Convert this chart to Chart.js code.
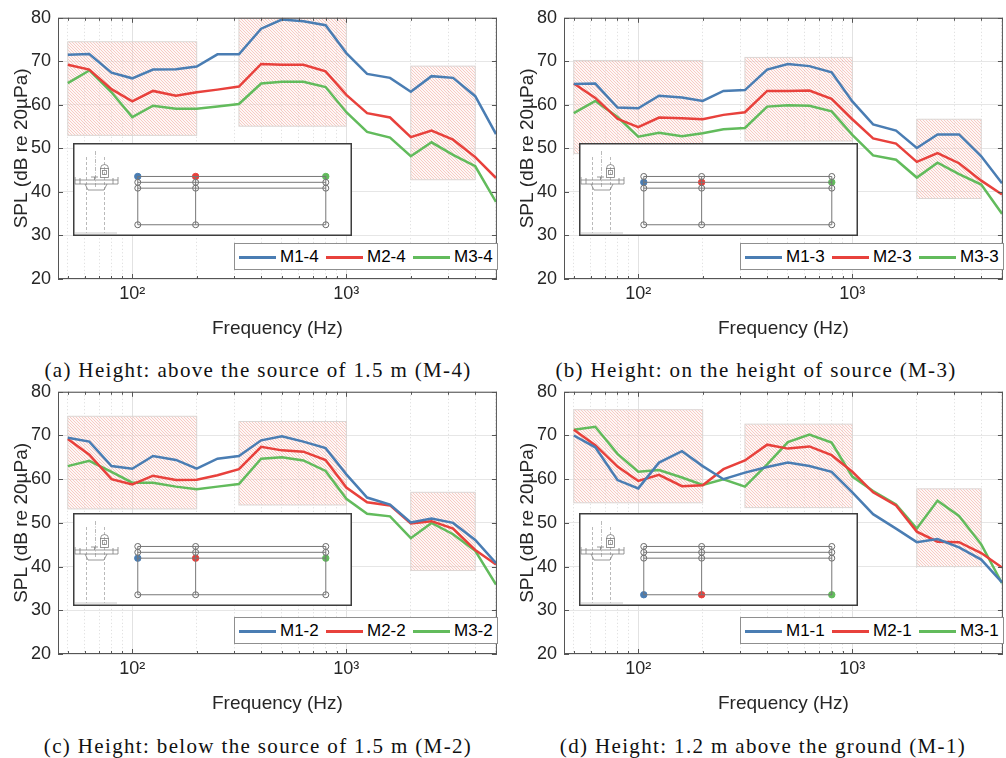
<!DOCTYPE html>
<html>
<head>
<meta charset="utf-8">
<script src="https://cdn.jsdelivr.net/npm/chart.js@4.4.1/dist/chart.umd.min.js"></script>
<style>
  body { margin: 0; background: #fff; width: 1006px; height: 758px; position: relative; overflow: hidden;
         font-family: "Liberation Sans", Arial, sans-serif; }
  .panel { position: absolute; }
  .inset { position: absolute; width: 279px; height: 93px; background: #fff; box-shadow: inset 0 0 0 1.5px #3d3d3d; }
  .legend { position: absolute; width: 264px; height: 27px; background: #fff; border: 1px solid #8f8f8f; box-sizing: border-box; }
  .legend .ln { position: absolute; top: 12px; width: 37px; height: 2.5px; }
  .legend .tx { position: absolute; top: 0; line-height: 26px; font-size: 17px; color: #000; }
  .caption { position: absolute; font-family: "Liberation Serif", serif; font-size: 21px; line-height: 24px;
             letter-spacing: 1.35px; color: #111; white-space: nowrap; transform: translateX(-50%); }
</style>
</head>
<body>
<script>
// --- data ---
const freqs = [50, 63, 80, 100, 125, 160, 200, 250, 315, 400, 500, 630, 800, 1000, 1250, 1600, 2000, 2500, 3150, 4000, 5000];

// (a) above the source, M-4
const m1_4 = [71.5, 71.7, 67.4, 66.1, 68.1, 68.2, 68.8, 71.6, 71.6, 77.5, 79.6, 79.2, 78.3, 71.9, 67.1, 66.2, 63.0, 66.6, 66.2, 62.0, 53.3];
const m2_4 = [69.2, 68.1, 63.6, 60.8, 63.2, 62.1, 62.9, 63.5, 64.2, 69.4, 69.2, 69.2, 67.7, 62.3, 58.1, 57.1, 52.6, 54.1, 52.0, 48.0, 43.2];
const m3_4 = [65.0, 67.9, 62.9, 57.2, 59.8, 59.1, 59.1, 59.6, 60.2, 64.9, 65.3, 65.3, 64.1, 58.3, 53.8, 52.5, 48.2, 51.4, 48.5, 45.9, 37.7];

// (b) source height, M-3
const m1_3 = [64.8, 64.9, 59.4, 59.2, 62.1, 61.7, 60.9, 63.2, 63.4, 68.1, 69.4, 68.9, 67.5, 60.8, 55.5, 54.1, 50.1, 53.2, 53.2, 48.2, 42.0];
const m2_3 = [64.9, 61.6, 56.8, 54.9, 57.1, 56.9, 56.7, 57.7, 58.3, 63.2, 63.2, 63.3, 61.4, 56.7, 52.3, 51.1, 46.9, 48.9, 46.6, 42.6, 39.4];
const m3_3 = [58.1, 60.9, 57.2, 52.7, 53.6, 52.8, 53.5, 54.4, 54.7, 59.6, 59.9, 59.8, 58.5, 53.1, 48.4, 47.4, 43.3, 46.7, 44.1, 41.7, 35.0];

// (c) below the source, M-2
const m1_2 = [69.5, 68.6, 63.0, 62.4, 65.3, 64.4, 62.4, 64.7, 65.3, 68.9, 69.8, 68.6, 67.1, 61.1, 55.8, 54.2, 50.1, 51.0, 50.0, 46.1, 40.8];
const m2_2 = [69.2, 65.6, 60.0, 58.8, 60.8, 59.8, 59.9, 60.9, 62.3, 67.4, 66.6, 66.3, 64.4, 58.1, 54.7, 54.0, 49.9, 50.4, 48.7, 43.8, 40.5];
const m3_2 = [63.0, 64.2, 61.7, 59.2, 59.2, 58.3, 57.7, 58.3, 58.9, 64.7, 65.0, 64.3, 61.9, 55.5, 52.1, 51.5, 46.5, 50.0, 47.4, 43.6, 35.9];

// (d) 1.2 m above ground, M-1
const m1_1 = [70.0, 67.3, 59.8, 57.9, 63.8, 66.4, 63.0, 60.0, 61.5, 62.8, 63.8, 63.0, 61.7, 57.0, 52.0, 48.7, 45.6, 46.3, 44.4, 41.6, 36.4];
const m2_1 = [71.3, 67.8, 62.9, 59.6, 61.0, 58.4, 58.6, 62.3, 64.3, 67.9, 67.0, 67.5, 65.5, 61.7, 57.0, 54.0, 48.0, 45.7, 45.6, 43.1, 39.8];
const m3_1 = [71.3, 72.0, 65.8, 61.7, 62.1, 60.4, 58.7, 60.0, 58.3, 63.4, 68.5, 70.2, 68.4, 60.6, 57.3, 54.2, 48.7, 55.1, 51.6, 45.1, 36.2];

// hatched bands: frequency ranges, and dB ranges per panel
const bandFreqs = [[50, 200], [315, 1000], [2000, 4000]];
const bandsA = [[53.0, 74.5], [55.1, 80.0], [42.8, 68.9]];
const bandsB = [[48.8, 70.2], [51.7, 70.9], [38.5, 56.7]];
const bandsC = [[53.2, 74.4], [54.1, 73.2], [39.1, 57.0]];
const bandsD = [[54.6, 75.9], [53.5, 72.6], [40.0, 57.8]];

// axis ticks
const xTickVals = [50, 60, 70, 80, 90, 100, 200, 300, 400, 500, 600, 700, 800, 900, 1000, 2000, 3000, 4000, 5000];
const yTickVals = [20, 30, 40, 50, 60, 70, 80];

// inset layout: mic stations along the line and the four heights (M-1..M-4)
const stationX = [0, 1, 3.25];
const heightLevels = [0, 1, 1.16, 1.32];

const colors = ['#4a7db3', '#e8413c', '#62bb5c'];

Chart.defaults.font.family = '"Liberation Sans", Arial, sans-serif';
Chart.defaults.color = '#262626';

const isMajor = v => v === 100 || v === 1000;

// --- plugins ---
function hatchPattern(ctx) {
  const c = document.createElement('canvas');
  c.width = 3; c.height = 3;
  const g = c.getContext('2d');
  g.fillStyle = 'rgba(250,232,228,0.35)';
  g.fillRect(0, 0, 3, 3);
  g.strokeStyle = 'rgba(240,128,108,0.42)';
  g.lineWidth = 0.9;
  g.beginPath();
  g.moveTo(-1, -1); g.lineTo(4, 4);
  g.moveTo(-1, 2); g.lineTo(1, 4);
  g.moveTo(2, -1); g.lineTo(4, 1);
  g.stroke();
  return ctx.createPattern(c, 'repeat');
}

const hatchPlugin = {
  id: 'hatch',
  beforeDatasetsDraw(chart, args, opts) {
    const { ctx, scales: { x, y } } = chart;
    const pat = hatchPattern(ctx);
    ctx.save();
    opts.bands.forEach((b, i) => {
      const x0 = x.getPixelForValue(bandFreqs[i][0]);
      const x1 = x.getPixelForValue(bandFreqs[i][1]);
      const y0 = y.getPixelForValue(b[1]);
      const y1 = y.getPixelForValue(b[0]);
      ctx.fillStyle = pat;
      ctx.fillRect(x0, y0, x1 - x0, y1 - y0);
      ctx.strokeStyle = '#dcd6d4';
      ctx.lineWidth = 1;
      ctx.strokeRect(x0, y0, x1 - x0, y1 - y0);
    });
    ctx.restore();
  }
};

const framePlugin = {
  id: 'frame',
  afterDatasetsDraw(chart) {
    const { ctx, chartArea: a, scales: { x, y } } = chart;
    ctx.save();
    ctx.strokeStyle = '#555';
    ctx.lineWidth = 1;
    ctx.strokeRect(a.left + 0.5, a.top + 0.5, a.width - 1, a.height - 1);
    ctx.beginPath();
    xTickVals.forEach(v => {
      const px = Math.round(x.getPixelForValue(v)) + 0.5;
      const len = isMajor(v) ? 5 : 3;
      ctx.moveTo(px, a.bottom); ctx.lineTo(px, a.bottom - len);
      ctx.moveTo(px, a.top); ctx.lineTo(px, a.top + len);
    });
    yTickVals.forEach(v => {
      const py = Math.round(y.getPixelForValue(v)) + 0.5;
      ctx.moveTo(a.left, py); ctx.lineTo(a.left + 5, py);
      ctx.moveTo(a.right, py); ctx.lineTo(a.right - 5, py);
    });
    ctx.stroke();
    ctx.restore();
  }
};

// small side-view sketch of the machine on the left of the inset
const sketchPlugin = {
  id: 'sketch',
  beforeDatasetsDraw(chart) {
    const ctx = chart.ctx;
    ctx.save();
    ctx.lineWidth = 0.8;
    ctx.strokeStyle = '#a8a8a8';
    ctx.setLineDash([3, 2]);
    ctx.beginPath();
    ctx.moveTo(13.5, 14); ctx.lineTo(13.5, 90);
    ctx.moveTo(31.5, 14); ctx.lineTo(31.5, 90);
    ctx.stroke();
    ctx.setLineDash([4, 1.5, 1, 1.5]);
    ctx.beginPath();
    ctx.moveTo(22.5, 8); ctx.lineTo(22.5, 44);
    ctx.stroke();
    ctx.setLineDash([]);
    ctx.strokeStyle = '#bdbdbd';
    ctx.beginPath();
    ctx.moveTo(2, 90); ctx.lineTo(44, 90);
    ctx.stroke();
    ctx.strokeStyle = '#7d7d7d';
    ctx.beginPath();
    ctx.moveTo(2, 37); ctx.lineTo(45, 37);
    ctx.moveTo(2, 41); ctx.lineTo(45, 41);
    ctx.moveTo(2, 34); ctx.lineTo(2, 41);
    ctx.moveTo(45, 34); ctx.lineTo(45, 41);
    ctx.moveTo(7, 35); ctx.lineTo(7, 41);
    ctx.moveTo(40, 35); ctx.lineTo(40, 41);
    ctx.moveTo(12, 41); ctx.lineTo(15, 47); ctx.lineTo(31, 47); ctx.lineTo(34, 41);
    ctx.moveTo(18, 34); ctx.lineTo(25, 34);
    ctx.moveTo(21.5, 34); ctx.lineTo(21.5, 37);
    ctx.stroke();
    ctx.strokeRect(27.5, 25.5, 8, 9);
    ctx.strokeRect(29.5, 27.5, 4, 4);
    ctx.beginPath();
    ctx.arc(31.5, 25.5, 4, Math.PI, 0);
    ctx.stroke();
    ctx.restore();
  }
};

// --- panels ---
const panels = [
  { left: 0,   top: 0,   height: 345, series: [m1_4, m2_4, m3_4], labels: ['M1-4', 'M2-4', 'M3-4'], bands: bandsA, level: 3,
    caption: '(a) Height: above the source of 1.5 m (M-4)', capX: 258, capY: 358, insetTop: 143 },
  { left: 506, top: 0,   height: 345, series: [m1_3, m2_3, m3_3], labels: ['M1-3', 'M2-3', 'M3-3'], bands: bandsB, level: 2,
    caption: '(b) Height: on the height of source (M-3)', capX: 756, capY: 358, insetTop: 143 },
  { left: 0,   top: 374, height: 346, series: [m1_2, m2_2, m3_2], labels: ['M1-2', 'M2-2', 'M3-2'], bands: bandsC, level: 1,
    caption: '(c) Height: below the source of 1.5 m (M-2)', capX: 258, capY: 734, insetTop: 513 },
  { left: 506, top: 374, height: 346, series: [m1_1, m2_1, m3_1], labels: ['M1-1', 'M2-1', 'M3-1'], bands: bandsD, level: 0,
    caption: '(d) Height: 1.2 m above the ground (M-1)', capX: 763, capY: 734, insetTop: 513 }
];

function mainConfig(p) {
  return {
    type: 'line',
    data: {
      datasets: p.series.map((s, i) => ({
        label: p.labels[i],
        data: freqs.map((f, j) => ({ x: f, y: s[j] })),
        borderColor: colors[i],
        borderWidth: 2.5,
        pointRadius: 0,
        tension: 0,
        fill: false
      }))
    },
    options: {
      responsive: false,
      animation: false,
      layout: { padding: { top: 14, right: 1, left: 0, bottom: 0 } },
      plugins: { legend: { display: false }, tooltip: { enabled: false }, hatch: { bands: p.bands } },
      scales: {
        x: {
          type: 'logarithmic', min: 45, max: 5050,
          afterBuildTicks: s => { s.ticks = xTickVals.map(v => ({ value: v })); },
          afterFit: s => { s.height = 66; },
          ticks: { autoSkip: false, maxRotation: 0, padding: 4, font: { size: 18 },
                   callback: v => v === 100 ? '10²' : v === 1000 ? '10³' : '' },
          grid: { drawTicks: false, lineWidth: 1, color: c => isMajor(c.tick && c.tick.value) ? '#e2e2e2' : '#dadada' },
          border: { display: false, dash: c => (c.tick && !isMajor(c.tick.value)) ? [1, 2.5] : [] },
          title: { display: true, text: 'Frequency (Hz)', font: { size: 19 }, padding: { bottom: 5 } }
        },
        y: {
          min: 20, max: 80,
          afterBuildTicks: s => { s.ticks = yTickVals.map(v => ({ value: v })); },
          afterFit: s => { s.width = 58; },
          ticks: { padding: 7, font: { size: 18 } },
          grid: { drawTicks: false, color: '#e6e6e6' },
          border: { display: false },
          title: { display: true, text: 'SPL (dB re 20µPa)', font: { size: 19 }, padding: { top: 10 } }
        }
      }
    },
    plugins: [hatchPlugin, framePlugin]
  };
}

function insetConfig(p) {
  const top = heightLevels[heightLevels.length - 1];
  const datasets = [];
  heightLevels.forEach(h => datasets.push({
    data: [{ x: stationX[0], y: h }, { x: stationX[2], y: h }],
    showLine: true, borderColor: '#777', borderWidth: 1, pointRadius: 0
  }));
  stationX.forEach(sx => datasets.push({
    data: [{ x: sx, y: 0 }, { x: sx, y: top }],
    showLine: true, borderColor: '#777', borderWidth: 1, pointRadius: 0
  }));
  const idle = [];
  heightLevels.forEach((h, k) => {
    if (k !== p.level) stationX.forEach(sx => idle.push({ x: sx, y: h }));
  });
  datasets.push({ data: idle, pointRadius: 3, pointBackgroundColor: '#fff', pointBorderColor: '#6a6a6a', pointBorderWidth: 1 });
  datasets.push({
    data: stationX.map(sx => ({ x: sx, y: heightLevels[p.level] })),
    pointRadius: 3.2, pointBackgroundColor: colors, pointBorderColor: colors, pointBorderWidth: 1
  });
  return {
    type: 'scatter',
    data: { datasets },
    options: {
      responsive: false,
      animation: false,
      layout: { padding: 0 },
      plugins: { legend: { display: false }, tooltip: { enabled: false } },
      scales: {
        x: { type: 'linear', display: false, min: -1.0333, max: 3.6167 },
        y: { type: 'linear', display: false, min: -0.1707, max: 2.0976 }
      }
    },
    plugins: [sketchPlugin]
  };
}

panels.forEach(p => {
  const wrap = document.createElement('div');
  wrap.className = 'panel';
  wrap.style.left = p.left + 'px';
  wrap.style.top = p.top + 'px';
  const cv = document.createElement('canvas');
  cv.width = 500; cv.height = p.height;
  cv.style.width = '500px'; cv.style.height = p.height + 'px';
  wrap.appendChild(cv);
  document.body.appendChild(wrap);
  new Chart(cv, mainConfig(p));

  const inset = document.createElement('div');
  inset.className = 'inset';
  inset.style.left = (p.left + 73) + 'px';
  inset.style.top = p.insetTop + 'px';
  const ic = document.createElement('canvas');
  ic.width = 279; ic.height = 93;
  ic.style.width = '279px'; ic.style.height = '93px';
  inset.appendChild(ic);
  document.body.appendChild(inset);
  new Chart(ic, insetConfig(p));

  const lg = document.createElement('div');
  lg.className = 'legend';
  lg.style.left = (p.left + 234) + 'px';
  lg.style.top = (p.top + 243) + 'px';
  const lineX = [4, 91, 178];
  p.labels.forEach((t, i) => {
    const ln = document.createElement('span');
    ln.className = 'ln';
    ln.style.left = lineX[i] + 'px';
    ln.style.background = colors[i];
    const tx = document.createElement('span');
    tx.className = 'tx';
    tx.style.left = (lineX[i] + 41) + 'px';
    tx.textContent = t;
    lg.appendChild(ln);
    lg.appendChild(tx);
  });
  document.body.appendChild(lg);

  const cap = document.createElement('div');
  cap.className = 'caption';
  cap.style.left = p.capX + 'px';
  cap.style.top = p.capY + 'px';
  cap.textContent = p.caption;
  document.body.appendChild(cap);
});
</script>
</body>
</html>
